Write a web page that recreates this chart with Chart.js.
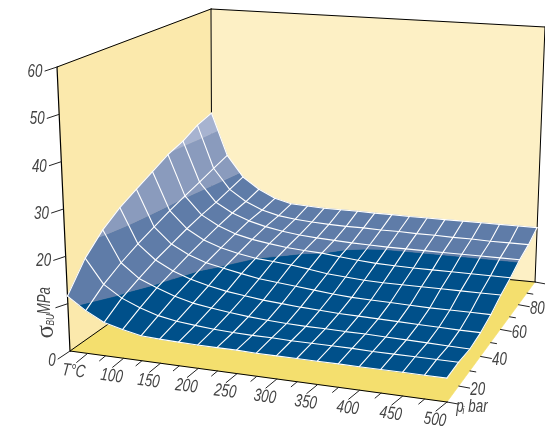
<!DOCTYPE html>
<html>
<head>
<meta charset="utf-8">
<style>
html, body { margin: 0; padding: 0; background: #fff; }
canvas { display: block; }
</style>
<script src="https://cdn.jsdelivr.net/npm/chart.js@4/dist/chart.umd.min.js"></script>
</head>
<body>
<canvas id="surfaceChart" width="545" height="428"></canvas>
<script>
// Axis values
const tempC = [25, 50, 75, 100, 125, 150, 175, 200, 225, 250, 275, 300, 325, 350, 375, 400, 425, 450, 475, 500];
const pressureBar = [10, 20, 30, 40, 50, 60, 70, 80, 90, 100];
const sigmaTicks = [0, 10, 20, 30, 40, 50, 60];
const sigmaLabels = ['0', '', '20', '30', '40', '50', '60'];
const tempLabels = ['100', '150', '200', '250', '300', '350', '400', '450', '500'];
const pressureLabels = ['20', '40', '60', '80'];

// Sigma_BU in MPa, one row per pressure
const sigmaP10 = [11.6, 9.0, 7.0, 6.0, 5.2, 5.0, 4.9, 4.8, 4.8, 4.8, 4.7, 4.7, 4.7, 4.7, 4.7, 4.7, 4.7, 4.7, 4.7, 4.7];
const sigmaP20 = [17.2, 12.0, 9.5, 7.9, 6.7, 6.0, 5.6, 5.3, 5.1, 5.0, 5.0, 4.9, 4.9, 4.9, 4.9, 4.8, 4.8, 4.8, 4.8, 4.8];
const sigmaP30 = [21.0, 14.2, 11.2, 9.6, 8.2, 7.2, 6.6, 6.1, 5.7, 5.4, 5.2, 5.1, 5.1, 5.0, 5.0, 4.9, 4.8, 4.7, 4.6, 4.5];
const sigmaP40 = [23.7, 16.0, 12.8, 10.8, 9.4, 8.4, 7.6, 7.1, 6.6, 6.3, 6.0, 5.8, 5.6, 5.5, 5.4, 5.3, 5.2, 5.1, 5.0, 5.0];
const sigmaP50 = [25.7, 17.5, 14.0, 12.0, 10.6, 9.8, 9.0, 8.3, 7.9, 7.5, 7.1, 6.7, 6.4, 6.3, 6.2, 6.1, 6.0, 6.0, 6.0, 6.0];
const sigmaP60 = [27.7, 19.0, 15.2, 13.0, 11.6, 10.7, 10.0, 9.7, 9.3, 8.8, 8.2, 7.9, 7.6, 7.5, 7.5, 7.5, 7.5, 7.5, 7.5, 7.5];
const sigmaP70 = [29.7, 20.3, 16.2, 14.0, 12.5, 11.6, 11.0, 10.5, 10.2, 10.0, 9.6, 9.2, 8.9, 8.8, 8.7, 8.7, 8.7, 8.7, 8.7, 8.7];
const sigmaP80 = [31.0, 21.5, 17.0, 14.8, 13.3, 12.3, 11.6, 11.1, 10.8, 10.6, 10.4, 10.3, 10.2, 10.2, 10.2, 10.2, 10.2, 10.2, 10.2, 10.2];
const sigmaP90 = [33.0, 22.8, 18.0, 15.4, 13.7, 12.7, 12.2, 11.9, 11.7, 11.6, 11.6, 11.5, 11.5, 11.4, 11.4, 11.3, 11.3, 11.2, 11.2, 11.2];
const sigmaP100 = [34.2, 24.0, 19.0, 16.3, 14.4, 13.4, 13.2, 13.0, 13.0, 13.0, 12.9, 12.9, 12.8, 12.8, 12.8, 12.8, 12.8, 12.8, 12.8, 12.8];
const sigmaRows = [sigmaP10, sigmaP20, sigmaP30, sigmaP40, sigmaP50, sigmaP60, sigmaP70, sigmaP80, sigmaP90, sigmaP100];

// Colour bands of the surface
const bandLimits = [-1, 10, 20, 30, 100];
const bandColors = ['#00508a', '#5f7ca8', '#8a9bbd', '#a7b3d0'];

const WALL_LEFT = '#fbe9ac';
const WALL_BACK = '#fdf0c5';
const FLOOR = '#f4df6e';
const TEXT = '#444444';
const LABEL_FONT = '"Liberation Sans", sans-serif';

// The view: corners of the box at sigma 0 and sigma 60
function homography(a, b, c, d) {
    const m11 = c[0] - b[0], m12 = c[0] - d[0], r1 = c[0] - a[0];
    const m21 = c[1] - b[1], m22 = c[1] - d[1], r2 = c[1] - a[1];
    const det = m11 * m22 - m12 * m21;
    const wb = (r1 * m22 - m12 * r2) / det;
    const wd = (m11 * r2 - r1 * m21) / det;
    return (s, t) => {
        const w = 1 + (wb - 1) * s + (wd - 1) * t;
        return [
            (a[0] + (wb * b[0] - a[0]) * s + (wd * d[0] - a[0]) * t) / w,
            (a[1] + (wb * b[1] - a[1]) * s + (wd * d[1] - a[1]) * t) / w
        ];
    };
}
const floorView = homography([70, 351], [447, 402], [535, 282], [212, 251]);
const topView = homography([57, 67], [445, 97], [545, 27], [211, 9]);

function project(T, p, sigma) {
    const s = (T - 25) / 475;
    const t = (p - 10) / 90;
    const z = sigma / 60;
    const f = floorView(s, t);
    const u = topView(s, t);
    return { x: f[0] + (u[0] - f[0]) * z, y: f[1] + (u[1] - f[1]) * z };
}

const datasets = [];

function addPolygon(pts, color) {
    datasets.push({
        data: pts.concat([pts[0]]),
        borderColor: color,
        backgroundColor: color,
        borderWidth: 0.6,
        fill: 'shape',
        pointRadius: 0,
        tension: 0
    });
}

function addLine(pts, color, width) {
    datasets.push({
        data: pts,
        borderColor: color,
        borderWidth: width,
        fill: false,
        pointRadius: 0,
        tension: 0,
        borderCapStyle: 'round',
        borderJoinStyle: 'round'
    });
}

// keep the part of a cell on one side of a sigma level
function clipCell(poly, level, keepAbove) {
    const out = [];
    for (let i = 0; i < poly.length; i++) {
        const a = poly[i];
        const b = poly[(i + 1) % poly.length];
        const aIn = keepAbove ? a[2] >= level : a[2] <= level;
        const bIn = keepAbove ? b[2] >= level : b[2] <= level;
        if (aIn) out.push(a);
        if (aIn !== bIn) {
            const k = (level - a[2]) / (b[2] - a[2]);
            out.push([a[0] + (b[0] - a[0]) * k, a[1] + (b[1] - a[1]) * k, level]);
        }
    }
    return out;
}

// Walls and floor
const c000 = [25, 10, 0], c100 = [500, 10, 0], c110 = [500, 100, 0], c010 = [25, 100, 0];
const c001 = [25, 10, 60], c111 = [500, 100, 60], c011 = [25, 100, 60];
const at = (c) => project(c[0], c[1], c[2]);

addPolygon([c000, c010, c011, c001].map(at), WALL_LEFT);
addPolygon([c010, c110, c111, c011].map(at), WALL_BACK);
addPolygon([c000, c100, c110, c010].map(at), FLOOR);

addLine([c000, c001].map(at), '#000', 1.2);
addLine([c001, c011].map(at), '#000', 1);
addLine([c011, c111].map(at), '#000', 1);
addLine([c010, c011].map(at), '#000', 1);
addLine([c110, c111].map(at), '#000', 1);
addLine([c000, c010].map(at), '#000', 1);
addLine([c010, c110].map(at), '#000', 1);
addLine([c000, c100].map(at), '#000', 1);

// Ticks
sigmaTicks.forEach((v) => {
    const a = project(25, 10, v);
    const end = v === 0 ? { x: a.x - 12, y: a.y + 8 } : { x: a.x - 12, y: a.y + 4 };
    addLine([a, end], '#222', 1);
});
tempC.slice(1).forEach((T) => {
    const a = project(T, 10, 0);
    const major = T % 50 === 0;
    addLine([a, { x: a.x + (major ? -11 : -6), y: a.y + (major ? 9 : 5) }], '#222', 1);
});
pressureBar.forEach((p) => {
    const a = project(500, p, 0);
    const major = p === 10 || p % 20 === 0;
    addLine([a, { x: a.x + (major ? 11 : 6), y: a.y + (major ? 2 : 1) }], '#222', 1);
});

// Surface cells, split at the band limits
for (let j = pressureBar.length - 2; j >= 0; j--) {
    for (let i = 0; i < tempC.length - 1; i++) {
        const cell = [
            [tempC[i], pressureBar[j], sigmaRows[j][i]],
            [tempC[i + 1], pressureBar[j], sigmaRows[j][i + 1]],
            [tempC[i + 1], pressureBar[j + 1], sigmaRows[j + 1][i + 1]],
            [tempC[i], pressureBar[j + 1], sigmaRows[j + 1][i]]
        ];
        bandColors.forEach((color, b) => {
            let part = clipCell(cell, bandLimits[b], true);
            if (part.length) part = clipCell(part, bandLimits[b + 1], false);
            if (part.length > 2) addPolygon(part.map(at), color);
        });
    }
}

// Surface grid
sigmaRows.forEach((row, j) => {
    addLine(row.map((s, i) => project(tempC[i], pressureBar[j], s)), '#ffffff', 1.1);
});
tempC.forEach((T, i) => {
    addLine(sigmaRows.map((row, j) => project(T, pressureBar[j], row[i])), '#ffffff', 1.1);
});

// first pushed is painted first
datasets.forEach((d, i) => { d.order = -i; });

// Tick labels and axis titles, squeezed because the narrow face is not installed
function tiltedText(ctx, text, x, y, angle, font, squeeze) {
    ctx.save();
    ctx.translate(x, y);
    ctx.rotate(angle * Math.PI / 180);
    ctx.scale(squeeze, 1);
    ctx.font = font;
    ctx.fillStyle = TEXT;
    ctx.textAlign = 'center';
    ctx.textBaseline = 'middle';
    ctx.fillText(text, 0, 0);
    ctx.restore();
}

const axisText = {
    id: 'axisText',
    afterDraw(chart) {
        const ctx = chart.ctx;
        const sx = chart.scales.x;
        const sy = chart.scales.y;
        const font = 'italic 18px ' + LABEL_FONT;
        const put = (pt, dx, dy, text, angle) => {
            tiltedText(ctx, text, sx.getPixelForValue(pt.x) + dx, sy.getPixelForValue(pt.y) + dy, angle, font, 0.74);
        };
        sigmaLabels.forEach((label, i) => {
            if (label) put(project(25, 10, sigmaTicks[i]), i === 0 ? -18 : -22, i === 0 ? 10 : 5, label, 0);
        });
        tempLabels.forEach((label) => {
            put(project(+label, 10, 0), -12, 18, label, 7);
        });
        put(project(50, 10, 0), -14, 18, 'T°C', 7);
        pressureLabels.forEach((label) => {
            put(project(500, +label, 0), 19, 4, label, 0);
        });

        // p_i bar
        const pb = project(500, 10, 0);
        put(pb, 13, 5, 'p', 0);
        tiltedText(ctx, 'i', pb.x + 16.5, pb.y + 9, 0, 'italic 10px ' + LABEL_FONT, 0.8);
        put(pb, 31, 5, 'bar', 0);

        // sigma_BU MPa, reads upward
        const st = project(25, 10, 10);
        const tx = sx.getPixelForValue(st.x) - 24;
        const ty = sy.getPixelForValue(st.y);
        tiltedText(ctx, 'σ', tx + 3, ty + 28, -90, '25px "Liberation Serif", serif', 1);
        tiltedText(ctx, 'BU', tx + 7, ty + 16, -90, 'italic 11px ' + LABEL_FONT, 0.76);
        put(st, -23, -3, 'MPa', -90);
    }
};

new Chart(document.getElementById('surfaceChart'), {
    type: 'line',
    data: { datasets },
    options: {
        responsive: false,
        animation: false,
        parsing: true,
        layout: { padding: 0 },
        scales: {
            x: { type: 'linear', min: 0, max: 545, display: false },
            y: { type: 'linear', min: 0, max: 428, reverse: true, display: false }
        },
        plugins: {
            legend: { display: false },
            tooltip: { enabled: false },
            filler: { drawTime: 'beforeDatasetDraw' }
        }
    },
    plugins: [axisText]
});
</script>
</body>
</html>
